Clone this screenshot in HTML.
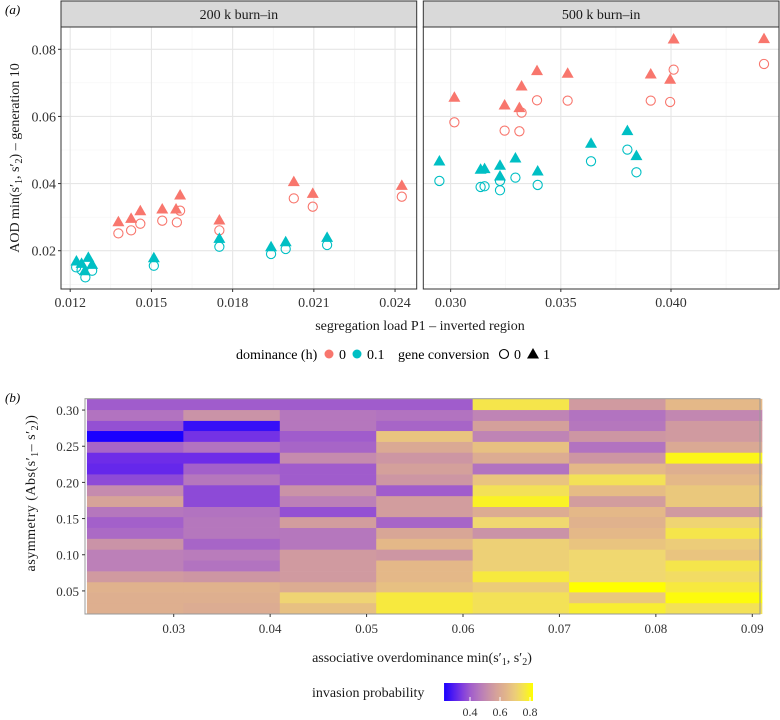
<!DOCTYPE html>
<html><head><meta charset="utf-8"><style>
body{margin:0;background:#fff;}
svg{display:block;}
svg text{font-family:"Liberation Serif","DejaVu Serif",serif;}
</style></head><body>
<svg id="chart" width="780" height="720" viewBox="0 0 780 720" font-family="Liberation Serif, serif"></svg>
<script>
// ---- panel (a) data ----
const p1RedTriX=[0.01378,0.01425,0.01459,0.01540,0.01591,0.01606,0.01751,0.02026,0.02096,0.02425];
const p1RedTriY=[0.02864,0.02963,0.03192,0.03241,0.03241,0.03658,0.02914,0.04056,0.03708,0.03946];
const p1RedCirX=[0.01378,0.01425,0.01459,0.01540,0.01594,0.01606,0.01751,0.02026,0.02096,0.02425];
const p1RedCirY=[0.02516,0.02606,0.02804,0.02894,0.02844,0.03192,0.02606,0.03559,0.03311,0.03609];
const p1CyaTriX=[0.01223,0.01242,0.01267,0.01254,0.01281,0.01509,0.01751,0.01942,0.01996,0.02149];
const p1CyaTriY=[0.01692,0.01623,0.01801,0.01404,0.01593,0.01791,0.02367,0.02119,0.02268,0.02397];
const p1CyaCirX=[0.01222,0.01242,0.01256,0.01281,0.01509,0.01751,0.01942,0.01996,0.02149];
const p1CyaCirY=[0.01503,0.01424,0.01206,0.01404,0.01553,0.02119,0.01901,0.02050,0.02169];

const p2RedTriX=[0.03017,0.03245,0.03312,0.03322,0.03392,0.03531,0.03908,0.03996,0.04012,0.04422];
const p2RedTriY=[0.0657,0.06342,0.06262,0.06908,0.07364,0.07285,0.07265,0.07106,0.08308,0.08318];
const p2RedCirX=[0.03017,0.03245,0.03312,0.03322,0.03392,0.03531,0.03908,0.03996,0.04012,0.04422];
const p2RedCirY=[0.05825,0.05577,0.05557,0.06113,0.06481,0.06471,0.06471,0.06431,0.07394,0.07563];
const p2CyaTriX=[0.02949,0.03136,0.03154,0.03224,0.03224,0.03294,0.03395,0.03637,0.03802,0.03843];
const p2CyaTriY=[0.04673,0.04425,0.04445,0.04544,0.04227,0.04763,0.04375,0.05200,0.05577,0.04832];
const p2CyaCirX=[0.02949,0.03136,0.03154,0.03224,0.03224,0.03294,0.03395,0.03637,0.03802,0.03843];
const p2CyaCirY=[0.04078,0.03899,0.03919,0.04078,0.03800,0.04177,0.03959,0.04663,0.05011,0.04336];

const yTicksA=[0.02,0.04,0.06,0.08];
const xTicksP1=[0.012,0.015,0.018,0.021,0.024];
const xTicksP2=[0.030,0.035,0.040];

// ---- panel (b) data ----
const aodCols=[0.026,0.036,0.046,0.056,0.066,0.076,0.086];
const asymRows=[0.026,0.041,0.056,0.070,0.085,0.100,0.115,0.130,0.145,0.160,0.174,0.189,0.204,0.219,0.234,0.249,0.264,0.279,0.293,0.308];
// rows bottom -> top, 7 columns each
const invProb=[
[0.62,0.61,0.67,0.77,0.75,0.78,0.75],
[0.62,0.62,0.72,0.77,0.75,0.69,0.81],
[0.63,0.63,0.61,0.67,0.70,0.82,0.77],
[0.55,0.54,0.55,0.65,0.77,0.73,0.74],
[0.48,0.45,0.55,0.65,0.71,0.73,0.76],
[0.48,0.47,0.55,0.54,0.71,0.73,0.68],
[0.53,0.42,0.46,0.65,0.71,0.68,0.70],
[0.43,0.46,0.46,0.59,0.53,0.65,0.76],
[0.41,0.46,0.56,0.42,0.73,0.63,0.72],
[0.46,0.45,0.38,0.56,0.61,0.65,0.55],
[0.58,0.37,0.48,0.56,0.79,0.56,0.69],
[0.51,0.37,0.53,0.40,0.75,0.66,0.69],
[0.37,0.46,0.40,0.54,0.68,0.75,0.65],
[0.31,0.41,0.40,0.57,0.45,0.65,0.62],
[0.32,0.32,0.51,0.54,0.61,0.54,0.80],
[0.42,0.45,0.42,0.60,0.67,0.45,0.60],
[0.23,0.33,0.40,0.68,0.49,0.54,0.55],
[0.38,0.26,0.46,0.42,0.57,0.46,0.55],
[0.45,0.53,0.46,0.45,0.49,0.45,0.50],
[0.40,0.40,0.40,0.40,0.76,0.55,0.65]];
const xTicksB=[0.03,0.04,0.05,0.06,0.07,0.08,0.09];
const yTicksB=[0.05,0.10,0.15,0.20,0.25,0.30];
const legTicks=[0.4,0.6,0.8];

const NS="http://www.w3.org/2000/svg";
const svg=document.getElementById('chart');
function mk(tag,attrs,parent,text){const e=document.createElementNS(NS,tag);for(const k in attrs)e.setAttribute(k,attrs[k]);if(tag==='text')e.setAttribute('font-family','Liberation Serif, serif');if(text!==undefined)e.textContent=text;(parent||svg).appendChild(e);return e;}
function lin(d0,d1,r0,r1){return v=>r0+(v-d0)*(r1-r0)/(d1-d0);}
const RED="#F8766D",CYA="#00BFC4";

// panel (a)
const yA=lin(0.02,0.08,250.7,49.3);
const panels=[
 {x0:61,x1:416.7,dom:[0.01166,0.0248],ticks:xTicksP1,minor:[0.0135,0.0165,0.0195,0.0225],title:"200 k burn–in",fmt:v=>v.toFixed(3),
  sets:[[p1RedCirX,p1RedCirY,RED,'c'],[p1CyaCirX,p1CyaCirY,CYA,'c'],[p1RedTriX,p1RedTriY,RED,'t'],[p1CyaTriX,p1CyaTriY,CYA,'t']],nm:'panel-200k'},
 {x0:423.3,x1:779,dom:[0.02876,0.0449],ticks:xTicksP2,minor:[0.0325,0.0375,0.0425],title:"500 k burn–in",fmt:v=>v.toFixed(3),
  sets:[[p2RedCirX,p2RedCirY,RED,'c'],[p2CyaCirX,p2CyaCirY,CYA,'c'],[p2RedTriX,p2RedTriY,RED,'t'],[p2CyaTriX,p2CyaTriY,CYA,'t']],nm:'panel-500k'}
];
panels.forEach(p=>{
  const g=mk('g',{});
  
  
  const x=lin(p.dom[0],p.dom[1],p.x0,p.x1);
  const top=27,bot=289;
  mk('rect',{x:p.x0,y:top,width:p.x1-p.x0,height:bot-top,fill:'#fff'},g);
  [0.01,0.03,0.05,0.07].forEach(v=>mk('line',{x1:p.x0,x2:p.x1,y1:yA(v),y2:yA(v),stroke:'#f2f2f2','stroke-width':0.6},g));
  p.minor.forEach(v=>mk('line',{x1:x(v),x2:x(v),y1:top,y2:bot,stroke:'#f2f2f2','stroke-width':0.6},g));
  yTicksA.forEach(v=>mk('line',{x1:p.x0,x2:p.x1,y1:yA(v),y2:yA(v),stroke:'#e6e6e6','stroke-width':1.1},g));
  p.ticks.forEach(v=>mk('line',{x1:x(v),x2:x(v),y1:top,y2:bot,stroke:'#e6e6e6','stroke-width':1.1},g));
  mk('rect',{x:p.x0,y:top,width:p.x1-p.x0,height:bot-top,fill:'none',stroke:'#333','stroke-width':1},g);
  const s=mk('g',{},g);
  
  
  mk('rect',{x:p.x0,y:1,width:p.x1-p.x0,height:26,fill:'#d9d9d9',stroke:'#333','stroke-width':1},s);
  mk('text',{x:(p.x0+p.x1)/2,y:19,'text-anchor':'middle','font-size':14,fill:'#1a1a1a'},s,p.title);
  p.ticks.forEach(v=>{
    mk('line',{x1:x(v),x2:x(v),y1:bot,y2:bot+3,stroke:'#333'},g);
    const t=mk('text',{x:x(v),y:bot+18,'text-anchor':'middle','font-size':14,fill:'#333'},g,p.fmt(v));
    
    
  });
  p.sets.forEach(([xs,ys,col,shape])=>{
    xs.forEach((xv,i)=>{
      const cx=x(xv),cy=yA(ys[i]);
      let m;
      if(shape==='c') m=mk('circle',{cx:cx,cy:cy,r:4.6,fill:'none',stroke:col,'stroke-width':1.1},g);
      else m=mk('polygon',{points:`${cx},${cy-6} ${cx-6},${cy+4.5} ${cx+6},${cy+4.5}`,fill:col},g);
      
      
    });
  });
});
yTicksA.forEach(v=>{
  mk('line',{x1:58,x2:61,y1:yA(v),y2:yA(v),stroke:'#333'});
  const t=mk('text',{x:56,y:yA(v)+5,'text-anchor':'end','font-size':14,fill:'#333'},svg,v.toFixed(2));
  
  
});
let t=mk('text',{x:5,y:14,'font-size':13,'font-style':'italic'},svg,'(a)');

t=mk('text',{x:420,y:330,'text-anchor':'middle','font-size':14,fill:'#1a1a1a'},svg,'segregation load P1 – inverted region');

t=mk('text',{transform:'translate(19,158) rotate(-90)','text-anchor':'middle','font-size':14,fill:'#1a1a1a'},svg);

t.innerHTML='AOD min(s′<tspan font-size="10" dy="3">1</tspan><tspan dy="-3">, s′</tspan><tspan font-size="10" dy="3">2</tspan><tspan dy="-3">) – generation 10</tspan>';
// legend (a)
const lg=mk('g',{});

mk('text',{x:236,y:359,'font-size':14},lg,'dominance (h)');
mk('circle',{cx:329,cy:354,r:4.5,fill:RED},lg);
mk('text',{x:339,y:359,'font-size':14},lg,'0');
mk('circle',{cx:357,cy:354,r:4.5,fill:CYA},lg);
mk('text',{x:367,y:359,'font-size':14},lg,'0.1');
mk('text',{x:398,y:359,'font-size':14},lg,'gene conversion');
mk('circle',{cx:504,cy:354,r:4.5,fill:'none',stroke:'#000','stroke-width':1.1},lg);
mk('text',{x:514,y:359,'font-size':14},lg,'0');
mk('polygon',{points:'533,348 527,358.5 539,358.5',fill:'#000'},lg);
mk('text',{x:543,y:359,'font-size':14},lg,'1');

// panel (b)
const cStops=[[0.23,[26,0,255]],[0.32,[110,44,232]],[0.40,[160,92,204]],[0.48,[188,128,184]],[0.55,[208,154,160]],[0.65,[228,184,136]],[0.73,[240,216,112]],[0.82,[255,255,0]]];
function colr(v){
  if(v<=cStops[0][0]){const c=cStops[0][1];return `rgb(${c})`;}
  for(let i=1;i<cStops.length;i++){
    if(v<=cStops[i][0]){
      const [a,ca]=cStops[i-1],[b,cb]=cStops[i];const f=(v-a)/(b-a);
      return `rgb(${ca.map((q,j)=>Math.round(q+(cb[j]-q)*f)).join(',')})`;
    }
  }
  return 'rgb(255,255,0)';
}
const xB=lin(0.0208,0.0908,85,760);
const yB=lin(0.0181,0.3157,614,398.7);
const bw=xB(0.01)-xB(0),bh=yB(0)-yB(0.01488);
const hm=mk('g',{});

asymRows.forEach((a,r)=>{
  aodCols.forEach((c,k)=>{
    const cell=mk('rect',{x:xB(c)-bw/2,y:yB(a)-bh/2,width:bw+0.4,height:bh+0.4,fill:colr(invProb[r][k])},hm);
    
    
  });
});
mk('rect',{x:85,y:398.7,width:675,height:215.3,fill:'none',stroke:'#999','stroke-width':1});
xTicksB.forEach(v=>{
  mk('line',{x1:xB(v),x2:xB(v),y1:614,y2:617,stroke:'#333'});
  const tt=mk('text',{x:xB(v),y:633,'text-anchor':'middle','font-size':13,fill:'#333'},svg,v.toFixed(2));
  
});
yTicksB.forEach(v=>{
  mk('line',{x1:82,x2:85,y1:yB(v),y2:yB(v),stroke:'#333'});
  const tt=mk('text',{x:79,y:yB(v)+5,'text-anchor':'end','font-size':13,fill:'#333'},svg,v.toFixed(2));
  
});
t=mk('text',{x:5,y:402,'font-size':13,'font-style':'italic'},svg,'(b)');

t=mk('text',{x:422,y:662,'text-anchor':'middle','font-size':14,fill:'#1a1a1a'},svg);

t.innerHTML='associative overdominance min(s′<tspan font-size="10" dy="3">1</tspan><tspan dy="-3">, s′</tspan><tspan font-size="10" dy="3">2</tspan><tspan dy="-3">)</tspan>';
t=mk('text',{transform:'translate(35,493) rotate(-90)','text-anchor':'middle','font-size':14,fill:'#1a1a1a','letter-spacing':'0.5'},svg);

t.innerHTML='asymmetry (Abs(s′<tspan font-size="10" dy="3">1</tspan><tspan dy="-3">– s′</tspan><tspan font-size="10" dy="3">2</tspan><tspan dy="-3">))</tspan>';
// colour legend
const defs=mk('defs',{});
const gr=mk('linearGradient',{id:'gb',x1:'0',x2:'1',y1:'0',y2:'0'},defs);
const legX=lin(0.4,0.8,470,530);
const legMin=0.227,legMax=0.82;
[0,0.1,0.2,0.3,0.4,0.5,0.6,0.7,0.8,0.9,1].forEach(f=>{
  mk('stop',{offset:f,'stop-color':colr(legMin+f*(legMax-legMin))},gr);
});
const cl=mk('g',{});

mk('text',{x:312,y:697,'font-size':14,fill:'#1a1a1a'},cl,'invasion probability');
mk('rect',{x:legX(legMin),y:683,width:legX(legMax)-legX(legMin),height:18,fill:'url(#gb)'},cl);
legTicks.forEach(v=>{
  mk('line',{x1:legX(v),x2:legX(v),y1:697,y2:701,stroke:'#fff'},cl);
  mk('text',{x:legX(v),y:716,'text-anchor':'middle','font-size':12,fill:'#333'},cl,v.toFixed(1));
});
</script>
</body></html>
